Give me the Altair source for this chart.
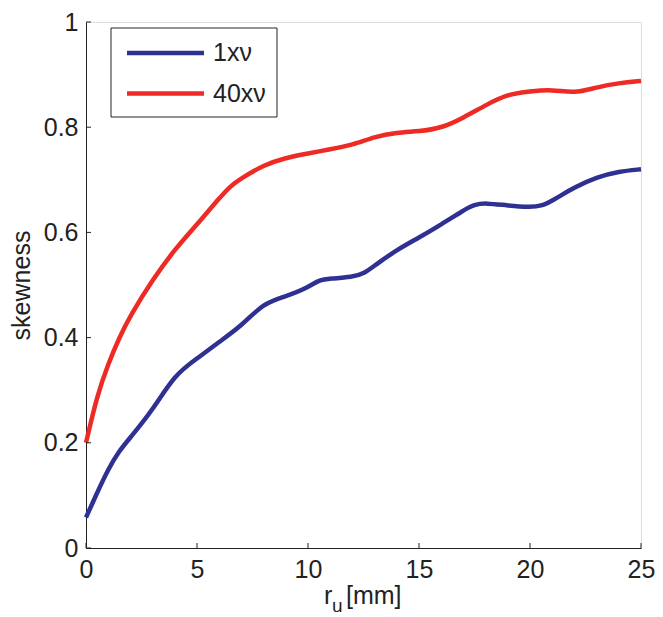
import altair as alt
import pandas as pd

# ---- data ----
x_1 = [0, 0.5, 1, 1.5, 2, 3, 4, 5, 6, 7, 8, 9, 10, 10.5, 11, 12, 12.5, 13, 14,
       15, 16, 17, 17.5, 18, 19, 20, 20.5, 21, 22, 23, 24, 25]
y_1 = [0.058, 0.105, 0.15, 0.185, 0.21, 0.262, 0.33, 0.36, 0.392, 0.422, 0.466,
       0.478, 0.495, 0.51, 0.512, 0.515, 0.521, 0.537, 0.567, 0.59, 0.615, 0.642,
       0.653, 0.656, 0.651, 0.648, 0.65, 0.66, 0.686, 0.705, 0.716, 0.72]

x_40 = [0, 0.5, 1, 1.5, 2, 3, 4, 5, 6, 6.5, 7, 8, 9, 10, 11, 12, 13, 14, 15, 16,
        17, 18, 19, 20, 21, 22, 23, 24, 25]
y_40 = [0.2, 0.29, 0.35, 0.40, 0.442, 0.51, 0.568, 0.615, 0.665, 0.688, 0.703,
        0.728, 0.742, 0.75, 0.758, 0.766, 0.782, 0.79, 0.792, 0.798, 0.818, 0.842,
        0.863, 0.868, 0.872, 0.864, 0.876, 0.884, 0.888]

series = ["1x\u03bd", "40x\u03bd"]
colors = ["#2e3192", "#ee2a24"]
x_ticks = [0, 5, 10, 15, 20, 25]
y_ticks = [0, 0.2, 0.4, 0.6, 0.8, 1.0]

FONT = "Liberation Sans"
TXT = "#222222"
FS = 25
W, H = 555, 526

df = pd.concat([
    pd.DataFrame({"r": x_1, "skew": y_1, "series": series[0]}),
    pd.DataFrame({"r": x_40, "skew": y_40, "series": series[1]}),
])

xs = alt.Scale(domain=[0, 25], nice=False, zero=False)
ys = alt.Scale(domain=[0, 1], nice=False)
cs = alt.Scale(domain=series, range=colors)

lines = alt.Chart(df).mark_line(strokeWidth=4.5, interpolate="basis").encode(
    x=alt.X("r:Q", scale=xs,
            axis=alt.Axis(values=x_ticks, format="~g", title=None, grid=False,
                          ticks=False, tickSize=0, labelPadding=9, labelFlush=False,
                          labelFontSize=FS, labelFont=FONT, labelColor=TXT,
                          domainColor=TXT, domainWidth=1)),
    y=alt.Y("skew:Q", scale=ys,
            axis=alt.Axis(values=y_ticks, format="~g", title="skewness", grid=False,
                          ticks=False, tickSize=0, labelPadding=8, labelFlush=False,
                          labelFontSize=FS, labelFont=FONT, labelColor=TXT,
                          titleFontSize=FS, titleFont=FONT, titleColor=TXT,
                          titleFontWeight="normal", titlePadding=9,
                          domainColor=TXT, domainWidth=1)),
    color=alt.Color("series:N", scale=cs, legend=None),
    detail="series:N",
)

# inward ticks (MATLAB style)
xt = alt.Chart(pd.DataFrame({"t": x_ticks})).mark_rule(color=TXT, strokeWidth=1).encode(
    x=alt.X("t:Q", scale=xs), y=alt.value(H), y2=alt.value(H - 5))
yt = alt.Chart(pd.DataFrame({"t": y_ticks})).mark_rule(color=TXT, strokeWidth=1).encode(
    y=alt.Y("t:Q", scale=ys), x=alt.value(0), x2=alt.value(5))

# x-axis title with subscript
base = alt.Chart(pd.DataFrame({"a": [0]}))
t_r = base.mark_text(text="r", fontSize=FS, font=FONT, color=TXT, align="left",
                     baseline="alphabetic").encode(x=alt.value(238), y=alt.value(582))
t_u = base.mark_text(text="u", fontSize=19, font=FONT, color=TXT, align="left",
                     baseline="alphabetic").encode(x=alt.value(246), y=alt.value(590))
t_mm = base.mark_text(text="[mm]", fontSize=FS, font=FONT, color=TXT, align="left",
                      baseline="alphabetic").encode(x=alt.value(260), y=alt.value(582))

# legend box
box = base.mark_rect(fill="white", stroke=TXT, strokeWidth=1).encode(
    x=alt.value(25), x2=alt.value(191), y=alt.value(6), y2=alt.value(95))
leg_layers = []
for i, (name, col) in enumerate(zip(series, colors)):
    yy = 31 + 40.5 * i
    leg_layers.append(base.mark_rule(color=col, strokeWidth=4.5).encode(
        x=alt.value(41), x2=alt.value(118), y=alt.value(yy)))
    leg_layers.append(base.mark_text(text=name, fontSize=FS, font=FONT, color=TXT,
                                     align="left", baseline="middle").encode(
        x=alt.value(127), y=alt.value(yy)))

chart = alt.layer(lines, xt, yt, t_r, t_u, t_mm, box, *leg_layers).properties(
    width=W, height=H,
    autosize=alt.AutoSizeParams(type="none"),
    padding={"left": 78, "top": 14, "right": 14, "bottom": 69},
).configure_view(stroke=None).configure(background="white")

chart.save("out.html", embed_options={"renderer": "svg", "actions": False})
